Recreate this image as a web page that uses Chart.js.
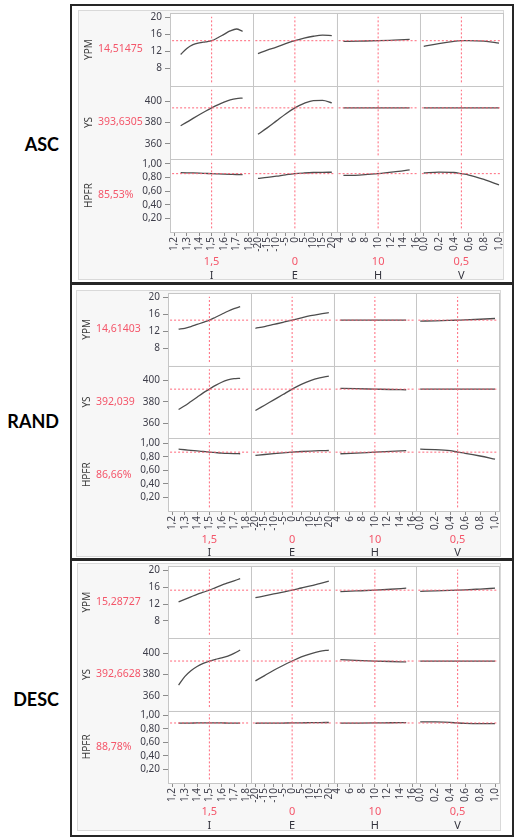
<!DOCTYPE html>
<html>
<head>
<meta charset="utf-8">
<script src="https://cdn.jsdelivr.net/npm/chart.js@4.4.1/dist/chart.umd.min.js"></script>
<style>
html,body{margin:0;padding:0;background:#fff;}
body{position:relative;width:514px;height:839px;overflow:hidden;}
.frame{position:absolute;box-sizing:border-box;border:2px solid #262626;}
.box{position:absolute;box-sizing:border-box;border:1px solid #d9d9d9;background:#f7f7f7;}
.cv{position:absolute;}
.tag{position:absolute;left:0;width:59px;text-align:right;font-family:Lato,'Open Sans',sans-serif;font-weight:700;font-size:18px;line-height:20px;color:#000;}
</style>
</head>
<body>
<script>
// ---------------- data ----------------
const panelNames = ['ASC', 'RAND', 'DESC'];
const factorNames = ['I', 'E', 'H', 'V'];
const responseNames = ['YPM', 'YS', 'HPFR'];
const factorSettings = [1.5, 0, 10, 0.5];
const factorSettingLabels = ['1,5', '0', '10', '0,5'];

const xTicksI = [1.2, 1.3, 1.4, 1.5, 1.6, 1.7, 1.8];
const xTickLabelsI = ['1,2', '1,3', '1,4', '1,5', '1,6', '1,7', '1,8'];
const xTicksE = [-20, -15, -10, -5, 0, 5, 10, 15, 20];
const xTickLabelsE = ['-20', '-15', '-10', '-5', '0', '5', '10', '15', '20'];
const xTicksH = [4, 6, 8, 10, 12, 14, 16];
const xTickLabelsH = ['4', '6', '8', '10', '12', '14', '16'];
const xTicksV = [0, 0.2, 0.4, 0.6, 0.8, 1.0];
const xTickLabelsV = ['0,0', '0,2', '0,4', '0,6', '0,8', '1,0'];

const yTicksYPM = [8, 12, 16, 20];
const yTickLabelsYPM = ['8', '12', '16', '20'];
const yTicksYS = [360, 380, 400];
const yTickLabelsYS = ['360', '380', '400'];
const yTicksHPFR = [0.2, 0.4, 0.6, 0.8, 1.0];
const yTickLabelsHPFR = ['0,20', '0,40', '0,60', '0,80', '1,00'];

const rangeI = [1.164, 1.836];
const rangeE = [-22.55, 22.55];
const rangeH = [3.4, 16.6];
const rangeV = [-0.053, 1.053];
const rangeYPM = [3.9, 21];
const rangeYS = [346, 414];
const rangeHPFR = [0.0, 1.07];

const gridI = [1.25, 1.3, 1.35, 1.4, 1.45, 1.5, 1.55, 1.6, 1.65, 1.7, 1.75];
const gridE = [-20, -15, -10, -5, 0, 5, 10, 15, 20];
const gridH = [4.5, 7, 10, 12.5, 15];
const gridV = [0, 0.2, 0.4, 0.5, 0.6, 0.8, 1.0];

// ASC
const ascPredicted = [14.51475, 393.6305, 0.8553];
const ascPredictedLabels = ['14,51475', '393,6305', '85,53%'];
const ascYPM_I = [11.3, 12.7, 13.6, 14.0, 14.25, 14.51, 15.2, 16.0, 16.8, 17.25, 16.7];
const ascYPM_E = [11.5, 12.3, 13.0, 13.8, 14.51, 15.1, 15.55, 15.8, 15.7];
const ascYPM_H = [14.35, 14.42, 14.51, 14.65, 14.8];
const ascYPM_V = [13.2, 13.85, 14.35, 14.51, 14.55, 14.4, 13.95];
const ascYS_I = [377, 380.3, 383.8, 387.2, 390.5, 393.63, 396.5, 399, 401, 402.3, 402.8];
const ascYS_E = [369, 375, 381.5, 388, 393.63, 397.8, 400.4, 400.6, 398.3];
const ascYS_H = [393.63, 393.63, 393.63, 393.63, 393.63];
const ascYS_V = [393.63, 393.63, 393.63, 393.63, 393.63, 393.63, 393.63];
const ascHPFR_I = [0.87, 0.868, 0.866, 0.863, 0.859, 0.855, 0.852, 0.849, 0.846, 0.843, 0.841];
const ascHPFR_E = [0.785, 0.80, 0.818, 0.838, 0.855, 0.865, 0.872, 0.875, 0.876];
const ascHPFR_H = [0.83, 0.835, 0.855, 0.88, 0.91];
const ascHPFR_V = [0.865, 0.878, 0.872, 0.855, 0.835, 0.77, 0.69];

// RAND
const randPredicted = [14.61403, 392.039, 0.8666];
const randPredictedLabels = ['14,61403', '392,039', '86,66%'];
const randYPM_I = [12.5, 12.7, 13.1, 13.6, 14.1, 14.61, 15.3, 16.0, 16.7, 17.3, 17.8];
const randYPM_E = [12.7, 13.1, 13.6, 14.1, 14.61, 15.15, 15.65, 16.05, 16.4];
const randYPM_H = [14.6, 14.6, 14.61, 14.6, 14.6];
const randYPM_V = [14.4, 14.45, 14.55, 14.61, 14.67, 14.82, 15.0];
const randYS_I = [373, 376.5, 380.5, 384.5, 388.5, 392.04, 395.5, 398.5, 400.6, 401.8, 402.2];
const randYS_E = [372, 377, 382, 387, 392.04, 396.5, 400, 402.5, 404.3];
const randYS_H = [392.8, 392.45, 392.04, 391.7, 391.45];
const randYS_V = [392.04, 392.04, 392.04, 392.04, 392.04, 392.04, 392.04];
const randHPFR_I = [0.91, 0.902, 0.893, 0.885, 0.876, 0.867, 0.86, 0.853, 0.848, 0.845, 0.843];
const randHPFR_E = [0.818, 0.832, 0.845, 0.857, 0.867, 0.876, 0.883, 0.888, 0.891];
const randHPFR_H = [0.843, 0.853, 0.867, 0.878, 0.888];
const randHPFR_V = [0.91, 0.905, 0.888, 0.867, 0.85, 0.81, 0.763];

// DESC
const descPredicted = [15.28727, 392.6628, 0.8878];
const descPredictedLabels = ['15,28727', '392,6628', '88,78%'];
const descYPM_I = [12.5, 13.1, 13.7, 14.3, 14.8, 15.29, 15.9, 16.5, 17.0, 17.5, 18.0];
const descYPM_E = [13.5, 13.95, 14.4, 14.85, 15.29, 15.8, 16.3, 16.85, 17.4];
const descYPM_H = [14.95, 15.1, 15.29, 15.5, 15.75];
const descYPM_V = [15.0, 15.12, 15.23, 15.29, 15.36, 15.55, 15.75];
const descYS_I = [370, 378, 383.5, 387.5, 390.5, 392.66, 394.3, 395.6, 397.3, 399.8, 403];
const descYS_E = [374, 379, 384, 388.5, 392.66, 396.5, 399.5, 401.8, 403];
const descYS_H = [393.9, 393.3, 392.66, 392.2, 391.8];
const descYS_V = [392.66, 392.66, 392.66, 392.66, 392.66, 392.66, 392.66];
const descHPFR_I = [0.886, 0.887, 0.887, 0.888, 0.888, 0.888, 0.888, 0.888, 0.887, 0.887, 0.887];
const descHPFR_E = [0.884, 0.885, 0.886, 0.887, 0.888, 0.89, 0.892, 0.894, 0.895];
const descHPFR_H = [0.885, 0.886, 0.888, 0.891, 0.893];
const descHPFR_V = [0.905, 0.903, 0.896, 0.888, 0.882, 0.879, 0.878];

// ---------------- assembly ----------------
const xTickValues = [xTicksI, xTicksE, xTicksH, xTicksV];
const xTickLabels = [xTickLabelsI, xTickLabelsE, xTickLabelsH, xTickLabelsV];
const yTickValues = [yTicksYPM, yTicksYS, yTicksHPFR];
const yTickLabels = [yTickLabelsYPM, yTickLabelsYS, yTickLabelsHPFR];
const factorRanges = [rangeI, rangeE, rangeH, rangeV];
const responseRanges = [rangeYPM, rangeYS, rangeHPFR];
const factorGrids = [gridI, gridE, gridH, gridV];

const panelData = [
  { predicted: ascPredicted, labels: ascPredictedLabels,
    curves: [[ascYPM_I, ascYPM_E, ascYPM_H, ascYPM_V], [ascYS_I, ascYS_E, ascYS_H, ascYS_V], [ascHPFR_I, ascHPFR_E, ascHPFR_H, ascHPFR_V]] },
  { predicted: randPredicted, labels: randPredictedLabels,
    curves: [[randYPM_I, randYPM_E, randYPM_H, randYPM_V], [randYS_I, randYS_E, randYS_H, randYS_V], [randHPFR_I, randHPFR_E, randHPFR_H, randHPFR_V]] },
  { predicted: descPredicted, labels: descPredictedLabels,
    curves: [[descYPM_I, descYPM_E, descYPM_H, descYPM_V], [descYS_I, descYS_E, descYS_H, descYS_V], [descHPFR_I, descHPFR_E, descHPFR_H, descHPFR_V]] }
];

// layout (positions only)
const panelLayouts = [
  { frameTop: 4,   frameH: 280, box: { left: 78, top: 10,  w: 426, h: 270 }, yAxisW: 92, padTop: 3, padRight: 1, xAxisH: 48, valueDy: 29.5, nameDy: 43.5, tagY: 144 },
  { frameTop: 283, frameH: 277, box: { left: 76, top: 290, w: 425, h: 267 }, yAxisW: 92, padTop: 3, padRight: 2, xAxisH: 46, valueDy: 28.5, nameDy: 42,   tagY: 421 },
  { frameTop: 559, frameH: 278, box: { left: 77, top: 563, w: 424, h: 268 }, yAxisW: 91, padTop: 3, padRight: 2, xAxisH: 48, valueDy: 29,   nameDy: 43.2, tagY: 699 }
];

const FONT = 'Noto Sans';
const RED = '#f4566a';
const CROSS = 'rgba(255,95,115,0.95)';
const TICKC = '#3e3e4a';
const MARKC = '#8c8c8c';
const CURVE = '#4d4d4d';
Chart.defaults.font.family = FONT;

function makeDecor(L, D) {
  return {
    id: 'decor',
    beforeDraw(chart) {
      const ctx = chart.ctx;
      ctx.save();
      ctx.fillStyle = '#ffffff';
      factorNames.forEach(f => responseNames.forEach(r => {
        const xs = chart.scales['x' + f], ys = chart.scales['y' + r];
        ctx.fillRect(xs.left, ys.top, xs.right - xs.left, ys.bottom - ys.top);
      }));
      ctx.restore();
    },
    afterDatasetsDraw(chart) {
      const ctx = chart.ctx;
      ctx.save();
      ctx.strokeStyle = '#c6c6c6';
      ctx.lineWidth = 1;
      factorNames.forEach(f => responseNames.forEach(r => {
        const xs = chart.scales['x' + f], ys = chart.scales['y' + r];
        const l = Math.round(xs.left) + 0.5, t = Math.round(ys.top) + 0.5;
        const w = Math.round(xs.right) - Math.round(xs.left), h = Math.round(ys.bottom) - Math.round(ys.top);
        ctx.strokeRect(l, t, w, h);
      }));
      ctx.restore();
    },
    afterDraw(chart) {
      const ctx = chart.ctx;
      const a = chart.chartArea;
      ctx.save();
      responseNames.forEach((r, i) => {
        const ys = chart.scales['y' + r];
        const cy = (ys.top + ys.bottom) / 2;
        ctx.save();
        ctx.translate(a.left - 81, cy);
        ctx.rotate(-Math.PI / 2);
        ctx.font = '10px "' + FONT + '"';
        ctx.fillStyle = '#3c3c3c';
        ctx.textAlign = 'center';
        ctx.textBaseline = 'middle';
        ctx.fillText(r, 0, 0);
        ctx.restore();
        ctx.font = '10.5px "' + FONT + '"';
        ctx.fillStyle = RED;
        ctx.textAlign = 'left';
        ctx.textBaseline = 'middle';
        ctx.fillText(D.labels[i], a.left - 72, cy);
      });
      factorNames.forEach((f, j) => {
        const xs = chart.scales['x' + f];
        const cx = (xs.left + xs.right) / 2;
        ctx.font = '11px "' + FONT + '"';
        ctx.textAlign = 'center';
        ctx.textBaseline = 'middle';
        ctx.fillStyle = RED;
        ctx.fillText(factorSettingLabels[j], cx, a.bottom + L.valueDy);
        ctx.fillStyle = '#33333d';
        ctx.fillText(f, cx, a.bottom + L.nameDy);
      });
      ctx.restore();
    }
  };
}

function buildPanel(idx) {
  const L = panelLayouts[idx];
  const D = panelData[idx];

  const frame = document.createElement('div');
  frame.className = 'frame';
  Object.assign(frame.style, { left: '70px', top: L.frameTop + 'px', width: '444px', height: L.frameH + 'px' });
  document.body.appendChild(frame);

  const box = document.createElement('div');
  box.className = 'box';
  Object.assign(box.style, { left: L.box.left + 'px', top: L.box.top + 'px', width: L.box.w + 'px', height: L.box.h + 'px' });
  document.body.appendChild(box);

  const tag = document.createElement('div');
  tag.className = 'tag';
  tag.textContent = panelNames[idx];
  tag.style.top = (L.tagY - 10) + 'px';
  document.body.appendChild(tag);

  const canvas = document.createElement('canvas');
  canvas.className = 'cv';
  canvas.width = L.box.w;
  canvas.height = L.box.h;
  canvas.style.left = L.box.left + 'px';
  canvas.style.top = L.box.top + 'px';
  canvas.style.width = L.box.w + 'px';
  canvas.style.height = L.box.h + 'px';
  document.body.appendChild(canvas);

  const scales = {};
  factorNames.forEach((f, j) => {
    scales['x' + f] = {
      type: 'linear', position: 'bottom', stack: 'cols', stackWeight: 1, weight: j + 1,
      bounds: 'data', min: factorRanges[j][0], max: factorRanges[j][1],
      afterBuildTicks: s => { s.ticks = xTickValues[j].map(v => ({ value: v })); },
      afterFit: s => { s.height = L.xAxisH; s.paddingLeft = 0; s.paddingRight = 0; },
      ticks: { autoSkip: false, minRotation: 90, maxRotation: 90, padding: 1, color: TICKC,
               font: { family: FONT, size: 10 }, callback: (v, i) => xTickLabels[j][i] },
      grid: { drawOnChartArea: false, drawTicks: true, tickLength: 4, color: MARKC },
      border: { display: false }
    };
  });
  responseNames.forEach((r, i) => {
    scales['y' + r] = {
      type: 'linear', position: 'left', stack: 'rows', stackWeight: 1, weight: 3 - i,
      bounds: 'data', min: responseRanges[i][0], max: responseRanges[i][1],
      afterBuildTicks: s => { s.ticks = yTickValues[i].map(v => ({ value: v })); },
      afterFit: s => { s.width = L.yAxisW; s.paddingTop = 0; s.paddingBottom = 0; },
      ticks: { autoSkip: false, padding: 3, color: TICKC, font: { family: FONT, size: 10 }, callback: (v, k) => yTickLabels[i][k] },
      grid: { drawOnChartArea: false, drawTicks: true, tickLength: 5, color: MARKC },
      border: { display: false }
    };
  });

  const datasets = [];
  responseNames.forEach((r, i) => factorNames.forEach((f, j) => {
    const xs = factorGrids[j];
    const ys = D.curves[i][j];
    datasets.push({
      data: xs.map((x, k) => ({ x: x, y: ys[k] })),
      xAxisID: 'x' + f, yAxisID: 'y' + r,
      borderColor: CURVE, borderWidth: 1.3, pointRadius: 0,
      tension: 0.4, cubicInterpolationMode: 'monotone', fill: false, order: 2
    });
    const xr = factorRanges[j], dx = (xr[1] - xr[0]) * 0.025;
    datasets.push({
      data: [{ x: xr[0] + dx, y: D.predicted[i] }, { x: xr[1] - dx, y: D.predicted[i] }],
      xAxisID: 'x' + f, yAxisID: 'y' + r,
      borderColor: CROSS, borderWidth: 1, borderDash: [2, 2], pointRadius: 0, tension: 0, fill: false, order: 1
    });
    const yr = responseRanges[i], dy = (yr[1] - yr[0]) * 0.05;
    datasets.push({
      data: [{ x: factorSettings[j], y: yr[0] + dy }, { x: factorSettings[j], y: yr[1] - dy }],
      xAxisID: 'x' + f, yAxisID: 'y' + r,
      borderColor: CROSS, borderWidth: 1, borderDash: [2, 2], pointRadius: 0, tension: 0, fill: false, order: 1
    });
  }));

  new Chart(canvas, {
    type: 'line',
    data: { datasets },
    options: {
      responsive: false, animation: false, devicePixelRatio: 1, events: [],
      layout: { padding: { left: 0, top: L.padTop, right: L.padRight, bottom: 0 }, autoPadding: false },
      plugins: { legend: { display: false }, tooltip: { enabled: false }, title: { display: false } },
      scales
    },
    plugins: [makeDecor(L, D)]
  });
}

[0, 1, 2].forEach(buildPanel);
</script>
</body>
</html>
